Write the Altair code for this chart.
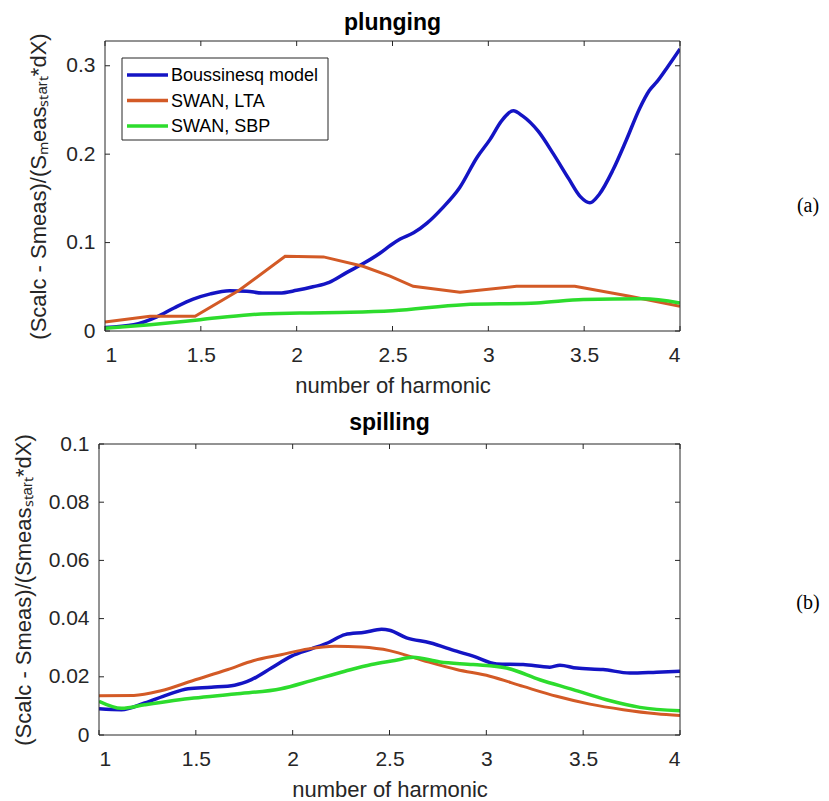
import altair as alt
import pandas as pd

# ---------------- data ----------------
X_TICKS = [1, 1.5, 2, 2.5, 3, 3.5, 4]
TOP_Y_TICKS = [0, 0.1, 0.2, 0.3]
BOT_Y_TICKS = [0, 0.02, 0.04, 0.06, 0.08, 0.1]
SERIES = ["Boussinesq model", "SWAN, LTA", "SWAN, SBP"]
COLORS = ["#1414c4", "#d35a26", "#2ddc2d"]

# plunging (a)
pl_bous_h = [1.0, 1.15, 1.27, 1.36, 1.46, 1.55, 1.65, 1.74, 1.82, 1.91, 2.0, 2.085, 2.17, 2.26,
             2.345, 2.434, 2.49, 2.54, 2.61, 2.68, 2.76, 2.85, 2.94, 3.01, 3.07, 3.13, 3.18,
             3.26, 3.34, 3.42, 3.48, 3.53, 3.58, 3.65, 3.72, 3.79, 3.84, 3.88, 3.93, 4.0]
pl_bous_v = [0.004, 0.007, 0.016, 0.026, 0.036, 0.042, 0.0455, 0.045, 0.043, 0.043, 0.046, 0.050,
             0.055, 0.066, 0.076, 0.088, 0.097, 0.104, 0.111, 0.122, 0.139, 0.162, 0.196, 0.217,
             0.238, 0.249, 0.243, 0.226, 0.200, 0.172, 0.152, 0.145, 0.155, 0.182, 0.216, 0.252,
             0.272, 0.282, 0.297, 0.319]
pl_lta_h = [1.0, 1.235, 1.47, 1.70, 1.94, 2.14, 2.346, 2.487, 2.608, 2.852, 3.147, 3.451, 3.738, 4.0]
pl_lta_v = [0.0102, 0.0166, 0.0166, 0.046, 0.0845, 0.0838, 0.0732, 0.062, 0.0506, 0.0438, 0.0506,
            0.0506, 0.0393, 0.028]
pl_sbp_h = [1.0, 1.235, 1.496, 1.756, 2.017, 2.278, 2.5, 2.87, 3.252, 3.495, 3.808, 4.0]
pl_sbp_v = [0.003, 0.0072, 0.0128, 0.0185, 0.0204, 0.0212, 0.023, 0.0298, 0.0317, 0.0355,
            0.0365, 0.0317]

# spilling (b)
sp_bous_h = [1.0, 1.116, 1.236, 1.356, 1.46, 1.58, 1.70, 1.787, 1.89, 1.994, 2.097, 2.183, 2.27,
             2.372, 2.459, 2.50, 2.588, 2.708, 2.846, 2.932, 3.053, 3.19, 3.328, 3.38, 3.466,
             3.603, 3.741, 3.879, 4.0]
sp_bous_v = [0.009, 0.0087, 0.011, 0.0139, 0.0159, 0.0164, 0.0171, 0.019, 0.023, 0.0271, 0.0296,
             0.0317, 0.0345, 0.0353, 0.0363, 0.036, 0.0334, 0.0317, 0.0288, 0.0271, 0.0244,
             0.0242, 0.0233, 0.024, 0.023, 0.0225, 0.0213, 0.0216, 0.0219]
sp_lta_h = [1.0, 1.18, 1.32, 1.49, 1.666, 1.80, 1.94, 2.08, 2.217, 2.355, 2.50, 2.674, 2.846,
            3.018, 3.19, 3.363, 3.535, 3.707, 3.879, 4.0]
sp_lta_v = [0.0135, 0.0136, 0.0152, 0.0188, 0.0225, 0.0256, 0.0276, 0.0296, 0.0305, 0.0302,
            0.029, 0.0256, 0.0225, 0.0202, 0.0167, 0.0133, 0.0106, 0.0087, 0.0073, 0.0067]
sp_sbp_h = [1.0, 1.116, 1.236, 1.49, 1.70, 1.94, 2.097, 2.27, 2.407, 2.527, 2.622, 2.76, 2.932,
            3.104, 3.276, 3.448, 3.62, 3.793, 4.0]
sp_sbp_v = [0.0116, 0.0092, 0.0104, 0.0127, 0.0141, 0.0159, 0.0187, 0.0219, 0.0242, 0.0256,
            0.0267, 0.0251, 0.0242, 0.023, 0.019, 0.0156, 0.0121, 0.0095, 0.0083]

# ---------------- styling ----------------
FONT = "Liberation Sans"
TXT = "#262626"
W = 581
H_TOP = 290
H_BOT = 291


def panel(curves, ymax, yticks, title, ytitle, height, x0, ytitle_pad, tag, tag_y,
          title_dx, legend=False):
    xscale = alt.Scale(domain=[1, 4], range=[x0, W], nice=False, zero=False)
    yscale = alt.Scale(domain=[0, ymax], nice=False, zero=False)
    xaxis = alt.Axis(values=X_TICKS, format="~g", domain=False, ticks=False, tickSize=0,
                     grid=False, labelFont=FONT, labelFontSize=21, labelColor=TXT,
                     labelPadding=13, title="number of harmonic", titleFont=FONT,
                     titleFontSize=22, titleFontWeight="normal", titleColor=TXT,
                     titlePadding=10)
    yaxis = alt.Axis(values=yticks, format="~g", domain=False, ticks=False, tickSize=0,
                     grid=False, labelFont=FONT, labelFontSize=21, labelColor=TXT,
                     labelPadding=10, title=ytitle, titleFont=FONT, titleFontSize=22,
                     titleFontWeight="normal", titleColor=TXT, titlePadding=ytitle_pad,
                     offset=-x0)
    layers = []
    # curves first (they carry the axes)
    for i, (hs, vs, interp, sw) in enumerate(curves):
        df = pd.DataFrame({"h": hs, "v": vs})
        layers.append(alt.Chart(df).mark_line(
            color=COLORS[i], strokeWidth=sw, interpolate=interp, clip=True).encode(
            x=alt.X("h:Q", scale=xscale, axis=xaxis),
            y=alt.Y("v:Q", scale=yscale, axis=yaxis)))
    # box outline
    layers.append(alt.Chart(pd.DataFrame({"a": [0]})).mark_rect(
        fill=None, filled=False, stroke=TXT, strokeWidth=1).encode(
        x=alt.value(x0), x2=alt.value(W), y=alt.value(0), y2=alt.value(height)))
    # inward ticks
    xt = pd.DataFrame({"h": X_TICKS})
    yt = pd.DataFrame({"v": yticks})
    for y1, y2 in [(height, height - 5), (0, 5)]:
        layers.append(alt.Chart(xt).mark_rule(color=TXT, strokeWidth=1).encode(
            x=alt.X("h:Q", scale=xscale, axis=xaxis), y=alt.value(y1), y2=alt.value(y2)))
    for x1, x2 in [(x0, x0 + 5), (W, W - 5)]:
        layers.append(alt.Chart(yt).mark_rule(color=TXT, strokeWidth=1).encode(
            y=alt.Y("v:Q", scale=yscale, axis=yaxis), x=alt.value(x1), x2=alt.value(x2)))
    # legend (drawn by hand, Matlab style)
    if legend:
        lx0, lx1, ly0, ly1 = x0 + 17, x0 + 223, 17, 99
        layers.append(alt.Chart(pd.DataFrame({"a": [0]})).mark_rect(
            fill="white", stroke=TXT, strokeWidth=1).encode(
            x=alt.value(lx0), x2=alt.value(lx1), y=alt.value(ly0), y2=alt.value(ly1)))
        for i, name in enumerate(SERIES):
            ry = 34 + i * 25.5
            d = pd.DataFrame({"name": [name]})
            layers.append(alt.Chart(d).mark_rule(color=COLORS[i], strokeWidth=3.5).encode(
                x=alt.value(x0 + 22), x2=alt.value(x0 + 63), y=alt.value(ry)))
            layers.append(alt.Chart(d).mark_text(
                align="left", baseline="middle", font=FONT, fontSize=18, color="black").encode(
                text="name:N", x=alt.value(x0 + 66), y=alt.value(ry + 1)))
    # panel tag
    layers.append(alt.Chart(pd.DataFrame({"tag": [tag]})).mark_text(
        align="center", baseline="middle", font="Liberation Serif", fontSize=20,
        color="black").encode(text="tag:N", x=alt.value(709), y=alt.value(tag_y)))
    return alt.layer(*layers).properties(
        width=W, height=height,
        title=alt.TitleParams(title, font=FONT, fontSize=23, fontWeight="bold", color="black",
                              baseline="alphabetic", offset=-20, dx=title_dx, anchor="middle",
                              frame="group"))


top = panel([(pl_bous_h, pl_bous_v, "monotone", 3.5),
             (pl_lta_h, pl_lta_v, "linear", 3),
             (pl_sbp_h, pl_sbp_v, "monotone", 3.5)],
            0.328, TOP_Y_TICKS, "plunging",
            "(Scalc - Smeas)/(Sₘeasₛₜₐᵣₜ*dX)", H_TOP, 6, 15, "(a)", 165, 3, legend=True)
bot = panel([(sp_bous_h, sp_bous_v, "monotone", 3.5),
             (sp_lta_h, sp_lta_v, "monotone", 3),
             (sp_sbp_h, sp_sbp_v, "monotone", 3.5)],
            0.1, BOT_Y_TICKS, "spilling",
            "(Scalc - Smeas)/(Smeasₛₜₐᵣₜ*dX)", H_BOT, 0, 13, "(b)", 159, 0)

chart = alt.vconcat(top, bot, spacing=16).properties(
    padding={"left": 4, "top": 3, "right": 0, "bottom": 0}
).configure_view(stroke=None)

chart.save("out.html", embed_options={"renderer": "svg", "actions": False})
